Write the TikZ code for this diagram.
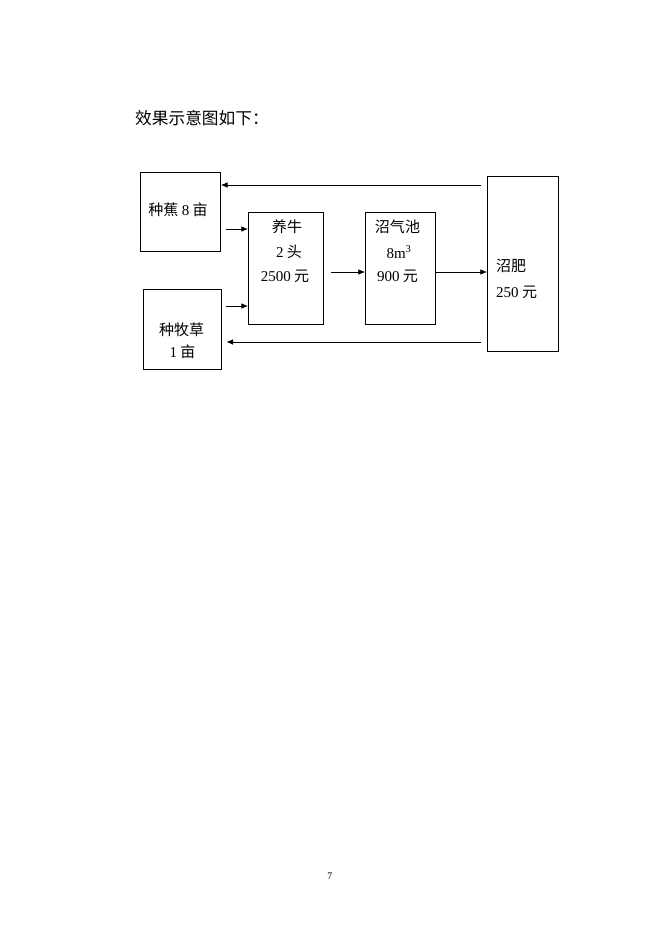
\documentclass[tikz,border=0pt]{standalone}
\usepackage{fontspec}
\setmainfont{Liberation Serif}
\newfontfamily\cjk{Noto Sans CJK SC}
\usetikzlibrary{arrows.meta}
\newcommand\dg[1]{{\rmfamily #1}}
\tikzset{
  box/.style n args={2}{draw, line width=0.8pt, inner sep=0pt, anchor=north west,
     minimum width={#1*0.8988pt}, minimum height={#2*0.8988pt}},
  txt/.style={inner sep=0pt, font=\cjk\fontsize{13.5}{16}\selectfont},
  arr/.style={line width=0.7pt, -{Latex[length=6pt,width=5pt]}}
}
\begin{document}
\begin{tikzpicture}[x=0.8988pt,y=-0.8988pt]
\path[use as bounding box, fill=white] (0,0) rectangle (662,936);
% title
\node[txt, anchor=west, font=\cjk\fontsize{15}{18}\selectfont] (title) at (135,118) {效果示意图如下：};
% boxes
\node[box={80}{79}] (zj) at (140,172) {};
\node[box={78}{80}] (mc) at (143,289) {};
\node[box={75}{112}] (yn) at (248,212) {};
\node[box={70}{112}] (zq) at (365,212) {};
\node[box={71}{175}] (zf) at (487,176) {};
% texts
\node[txt] (t1) at (178,210) {种蕉 \dg{8} 亩};
\node[txt] (t2a) at (181.7,330) {种牧草};
\node[txt] (t2b) at (182.5,352) {\dg{1} 亩};
\node[txt] (t3a) at (287,227) {养牛};
\node[txt] (t3b) at (289,252) {\dg{2} 头};
\node[txt] (t3c) at (285,276) {\dg{2500} 元};
\node[txt] (t4a) at (397.5,227) {沼气池};
\node[txt] (t4b) at (399,252) {\dg{8m\textsuperscript{3}}};
\node[txt] (t4c) at (397.5,276) {\dg{900} 元};
\node[txt, anchor=west] (t5a) at (496,266) {沼肥};
\node[txt, anchor=west] (t5b) at (496,292) {\dg{250} 元};
% page number
\node[inner sep=0pt, font=\rmfamily\fontsize{9}{10}\selectfont] (pg) at (330,876) {7};
% arrow rows
\coordinate (ya) at (0,185);
\coordinate (yb) at (0,342);
\coordinate (yc) at (0,229);
\coordinate (yd) at (0,306);
\coordinate (ye) at (0,272);
\draw[arr, shorten <=5] (zf.west |- ya) -- (zj.east |- ya);
\draw[arr, shorten <=5, shorten >=4] (zf.west |- yb) -- (mc.east |- yb);
\draw[arr, shorten <=5] (zj.east |- yc) -- (yn.west |- yc);
\draw[arr, shorten <=4] (mc.east |- yd) -- (yn.west |- yd);
\draw[arr, shorten <=6] (yn.east |- ye) -- (zq.west |- ye);
\draw[arr] (zq.east |- ye) -- (zf.west |- ye);
\end{tikzpicture}
\end{document}
